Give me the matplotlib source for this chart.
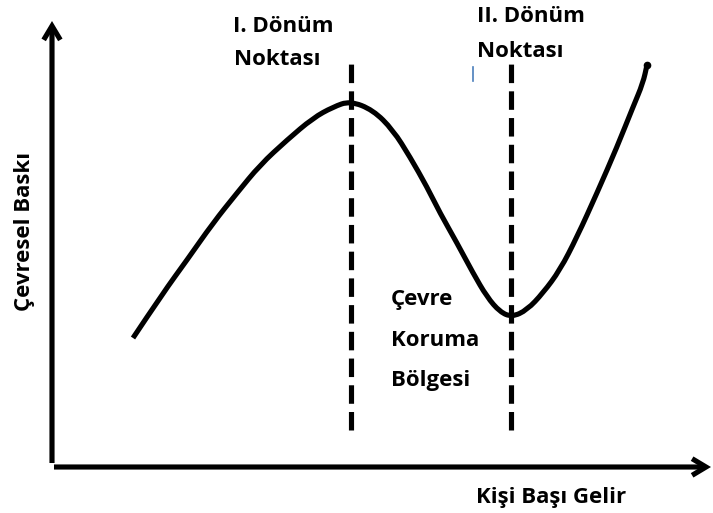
import matplotlib
matplotlib.use("Agg")
import matplotlib.pyplot as plt
from matplotlib.path import Path
from matplotlib.patches import PathPatch

# Environmental Kuznets N-curve: per-capita income vs. environmental pressure
income = [133, 163, 187, 213, 237, 260, 287, 313, 333, 350, 373, 393, 410, 427,
          440, 457, 473, 487, 500, 512, 527, 543, 560, 577, 597, 617, 633, 643, 647]
pressure = [175, 220, 253, 290, 320, 348, 373, 395, 406, 412, 403, 383, 356, 326,
            300, 270, 240, 216, 201, 196, 203, 220, 243, 276, 320, 366, 406, 430, 448]

# turning points (income levels)
turning_points = [351, 511]
zone_label = ["Çevre", "Koruma", "Bölgesi"]
x_label = "Kişi Başı Gelir"
y_label = "Çevresel Baskı"

W, H = 713, 513
fig = plt.figure(figsize=(W / 100, H / 100), dpi=100)
ax = fig.add_axes([0, 0, 1, 1])
ax.set_xlim(0, W)
ax.set_ylim(0, H)
ax.axis("off")

FONT = "Open Sans"
FS = 16
LW = 3.7

# axes with open arrow heads
arrow = dict(arrowstyle="->,head_length=1.0,head_width=0.6", lw=LW, color="black",
             shrinkA=0, shrinkB=0, joinstyle="miter", capstyle="butt")
ax.annotate("", xy=(52, 492), xytext=(52, 50), arrowprops=arrow)
ax.annotate("", xy=(711, 46), xytext=(54, 46), arrowprops=arrow)

# smooth curve: quadratic Bezier segments through midpoints of the readings
pts = list(zip(income, pressure))
verts = [pts[0]]
codes = [Path.MOVETO]
for i in range(1, len(pts) - 1):
    mid = ((pts[i][0] + pts[i + 1][0]) / 2, (pts[i][1] + pts[i + 1][1]) / 2)
    verts += [pts[i], mid]
    codes += [Path.CURVE3, Path.CURVE3]
verts.append(pts[-1])
codes.append(Path.LINETO)
ax.add_patch(PathPatch(Path(verts, codes), facecolor="none", edgecolor="black",
                       lw=LW, capstyle="butt", joinstyle="round"))
ax.plot(income[-1], pressure[-1], "o", color="black", ms=4.5)

# turning point dashed lines
for tp in turning_points:
    ax.plot([tp, tp], [83, 450], color="black", lw=LW, dashes=(3.6, 1.6),
            dash_capstyle="butt")

# labels
txt_kw = dict(family=FONT, weight="bold", fontsize=FS, va="baseline")
ax.text(233, 481, "I. Dönüm", **txt_kw)
ax.text(234, 448, "Noktası", **txt_kw)
ax.text(477, 491, "II. Dönüm", **txt_kw)
ax.text(477, 456, "Noktası", **txt_kw)
for txt, yb in zip(zone_label, [208, 167, 127]):
    ax.text(391, yb, txt, **txt_kw)
ax.text(476, 10, x_label, **txt_kw)
ax.text(25, 282, y_label, family=FONT, weight="bold", fontsize=FS, rotation=90,
        ha="center", va="center")

# small cursor mark
ax.plot([473, 473], [432, 446], color="#4A7EBB", lw=1.2)

fig.savefig("out.png", dpi=100)
